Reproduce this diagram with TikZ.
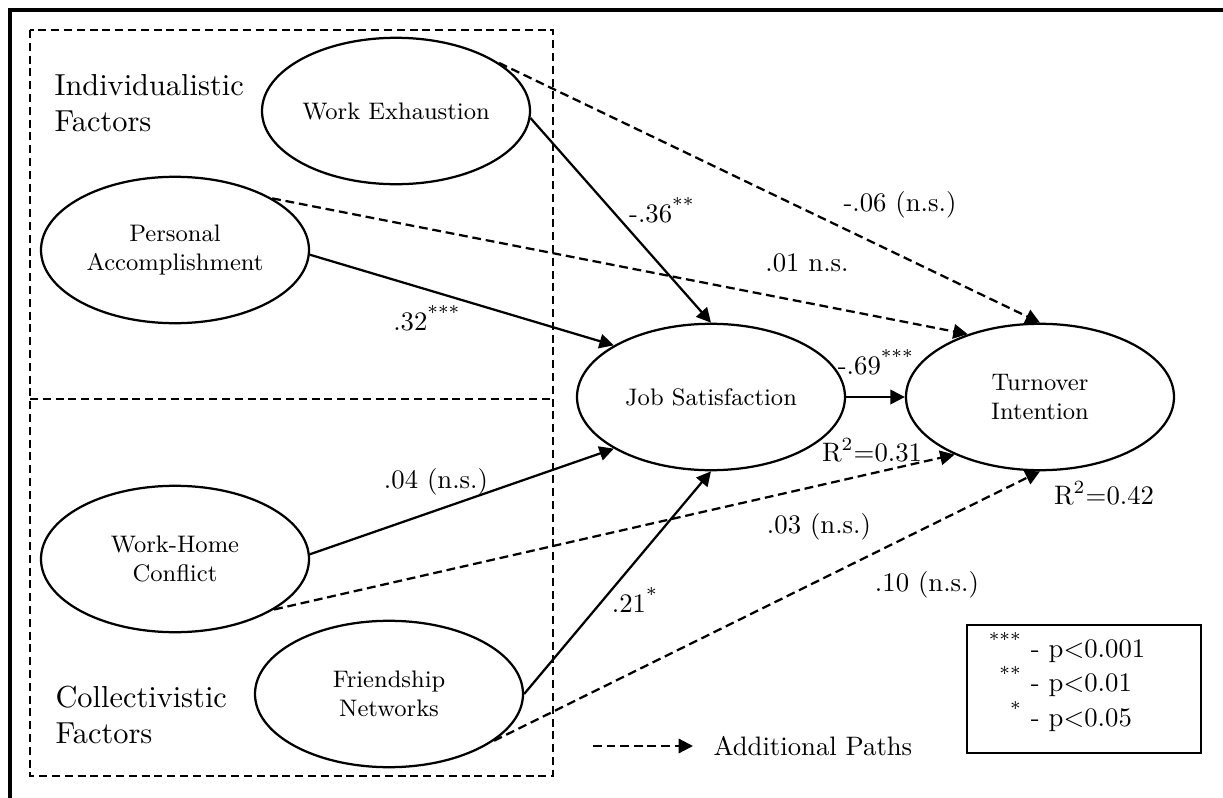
\documentclass[tikz,border=0pt]{standalone}
\usetikzlibrary{arrows.meta,shapes.geometric}
\newcommand{\stars}[1]{\textsuperscript{#1}}
\tikzset{
  factor/.style={draw, ellipse, line width=0.8pt, minimum width=33.5mm, minimum height=18.3mm,
    inner sep=0pt, align=center, font=\fontsize{8.5}{10.5}\selectfont},
  link/.style={line width=0.8pt, -{Triangle[length=1.8mm,width=1.8mm]}},
  extra/.style={link, dash pattern=on 1.1mm off 0.6mm},
  coef/.style={font=\fontsize{9.5}{11.5}\selectfont, inner sep=0pt},
  grouplbl/.style={font=\fontsize{10.8}{13}\selectfont, align=left, anchor=west, inner sep=0pt},
  groupline/.style={line width=0.6pt, dash pattern=on 1mm off 0.6mm}
}
\begin{document}
\begin{tikzpicture}[x=0.125mm, y=-0.125mm]
    \useasboundingbox (0,0) rectangle (1223,798);
    \clip (0,0) rectangle (1223,798);
    \draw[line width=1.1pt] (10,10) rectangle (1300,900);

    \draw[groupline] (30,30) rectangle (553,776);
    \draw[groupline] (30,399) -- (553,399);
    \node[grouplbl] (indiv) at (54,103) {Individualistic\\Factors};
    \node[grouplbl] (coll) at (55,715) {Collectivistic\\Factors};

    \node[factor] (we) at (396,111) {Work Exhaustion};
    \node[factor] (pa) at (175,250) {Personal\\Accomplishment};
    \node[factor] (whc) at (175,559) {Work-Home\\Conflict};
    \node[factor] (fn) at (389,694) {Friendship\\Networks};
    \node[factor] (js) at (711,397) {Job Satisfaction};
    \node[factor] (ti) at (1040,397) {Turnover\\Intention};

    \draw[link] (we.-3) -- (js.north);
    \draw[link] (pa.-2) -- (js.152);
    \draw[link] (whc.2) -- (js.208);
    \draw[link] (fn.east) -- (js.south);
    \draw[link] (js) -- (ti);
    \draw[extra] (we.25) -- (ti.north);
    \draw[extra] (pa.28) -- (ti.139);
    \draw[extra] (whc.-27) -- (ti.214);
    \draw[extra] (fn.-24) -- (ti.south);

    \node[coef] (c1) at (662,210) {-.36\stars{**}};
    \node[coef] (c2) at (427,318) {.32\stars{***}};
    \node[coef] (c3) at (436,482) {.04 (n.s.)};
    \node[coef] (c4) at (635,600) {.21\stars{*}};
    \node[coef] (c5) at (876,362) {-.69\stars{***}};
    \node[coef] (c6) at (900,205) {-.06 (n.s.)};
    \node[coef] (c7) at (807,263) {.01 n.s.};
    \node[coef] (c8) at (819,527) {.03 (n.s.)};
    \node[coef] (c9) at (927,585) {.10 (n.s.)};
    \node[coef] (r1) at (872,450) {R\textsuperscript{2}=0.31};
    \node[coef] (r2) at (1104,493) {R\textsuperscript{2}=0.42};

    \coordinate (keystart) at (593,746);
    \node[coef, anchor=west] (addl) at (713,746) {Additional Paths};
    \draw[extra, shorten >=2.5mm] (keystart) -- (addl.west);

    \node[draw, line width=0.5pt, minimum width=29.25mm, minimum height=16mm] (keybox) at (1084,689) {};
    \node[coef] (key) at (1067,684) {\begin{tabular}{@{}r@{ }l@{}}
      \stars{***} & - p<0.001\\ \stars{**} & - p<0.01\\ \stars{*} & - p<0.05
    \end{tabular}};
\end{tikzpicture}
\end{document}
